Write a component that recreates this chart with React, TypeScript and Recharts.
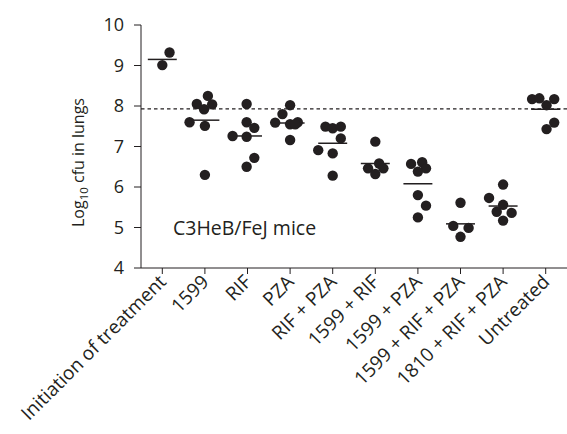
import React from "react";
import {
  ScatterChart,
  Scatter,
  XAxis,
  YAxis,
  ReferenceLine,
} from "recharts";

const categories = [
  "Initiation of treatment",
  "1599",
  "RIF",
  "PZA",
  "RIF + PZA",
  "1599 + RIF",
  "1599 + PZA",
  "1599 + RIF + PZA",
  "1810 + RIF + PZA",
  "Untreated",
];

// log10 cfu per mouse, by group
const values = [
  [9.01, 9.32],
  [7.6, 8.05, 7.92, 8.25, 8.04, 7.51, 6.3],
  [7.26, 8.05, 7.6, 7.46, 7.24, 6.72, 6.5],
  [8.02, 7.8, 7.59, 7.55, 7.6, 7.55, 7.16],
  [6.91, 7.49, 7.45, 7.49, 7.2, 6.83, 6.28],
  [7.12, 6.46, 6.58, 6.46, 6.32],
  [6.57, 6.61, 6.46, 6.38, 5.8, 5.54, 5.25],
  [5.61, 5.04, 4.99, 4.77],
  [6.06, 5.73, 5.56, 5.39, 5.36, 5.17],
  [8.17, 8.19, 8.02, 8.17, 7.59, 7.43],
];

// horizontal jitter of each dot, in category widths
const jitter = [
  [0, 0.17],
  [-0.36, -0.19, -0.02, 0.07, 0.17, 0, 0],
  [-0.35, -0.02, -0.02, 0.16, -0.02, 0.16, -0.02],
  [0, -0.18, -0.35, 0, 0.18, 0.12, 0],
  [-0.34, -0.17, 0, 0.19, 0.19, 0, 0],
  [0, -0.17, 0.09, 0.19, 0],
  [-0.16, 0.1, 0.19, 0, 0, 0.19, 0],
  [0, -0.17, 0.19, 0],
  [0, -0.33, 0, -0.15, 0.2, 0],
  [-0.32, -0.15, 0.02, 0.2, 0.2, 0.02],
];

const means = [9.15, 7.65, 7.26, 7.58, 7.08, 6.58, 6.08, 5.09, 5.53, 7.92];
const baseline = 7.93;
const yTicks = [4, 5, 6, 7, 8, 9, 10];

const points = values.flatMap((vals, i) =>
  vals.map((v, j) => ({ x: i + jitter[i][j], y: v }))
);

const ink = "#231f20";
const font = "'Open Sans', 'Noto Sans', sans-serif";

const Dot = (props: any) => (
  <circle cx={props.cx} cy={props.cy} r={5.2} fill={ink} />
);

const XTick = (props: any) => {
  const { x, y, payload } = props;
  const tx = x + 5;
  const ty = y + 7;
  return (
    <text
      x={tx}
      y={ty}
      textAnchor="end"
      transform={`rotate(-45, ${tx}, ${ty})`}
      fontSize={19}
      fontFamily={font}
      fill={ink}
    >
      {categories[payload.value]}
    </text>
  );
};

const Texts = () => (
  <g fontFamily={font} fill={ink}>
    <text
      x={84}
      y={227}
      textAnchor="start"
      transform="rotate(-90, 84, 227)"
      fontSize={16}
    >
      <tspan>Log</tspan>
      <tspan fontSize={11.5} dy={4}>10</tspan>
      <tspan dy={-4}> cfu in lungs</tspan>
    </text>
    <text x={173} y={235} textAnchor="start" fontSize={19.5}>
      C3HeB/FeJ mice
    </text>
  </g>
);

export default function App() {
  return (
    <div style={{ position: "absolute", left: 0, top: 0 }}>
      <ScatterChart
        width={567}
        height={434}
        margin={{ top: 25, right: 0, left: 0, bottom: 0 }}
      >
        <XAxis
          type="number"
          dataKey="x"
          domain={[-0.5, 9.5]}
          ticks={categories.map((_, i) => i)}
          interval={0}
          height={166}
          tick={<XTick />}
          tickSize={6}
          stroke={ink}
          axisLine={{ stroke: ink }}
          tickLine={{ stroke: ink }}
        />
        <YAxis
          type="number"
          dataKey="y"
          domain={[4, 10]}
          ticks={yTicks}
          width={141}
          tickSize={7}
          tickMargin={10}
          stroke={ink}
          tick={{ fill: ink, fontSize: 18, fontFamily: font }}
          label={{ content: () => <Texts /> }}
        />
        <ReferenceLine
          y={baseline}
          stroke={ink}
          strokeWidth={1.3}
          strokeDasharray="3.5 3"
        />
        {means.map((m, i) => (
          <ReferenceLine
            key={i}
            segment={[
              { x: i - 0.34, y: m },
              { x: i + 0.34, y: m },
            ]}
            stroke={ink}
            strokeWidth={1.5}
          />
        ))}
        <Scatter data={points} shape={<Dot />} isAnimationActive={false} />
      </ScatterChart>
    </div>
  );
}
